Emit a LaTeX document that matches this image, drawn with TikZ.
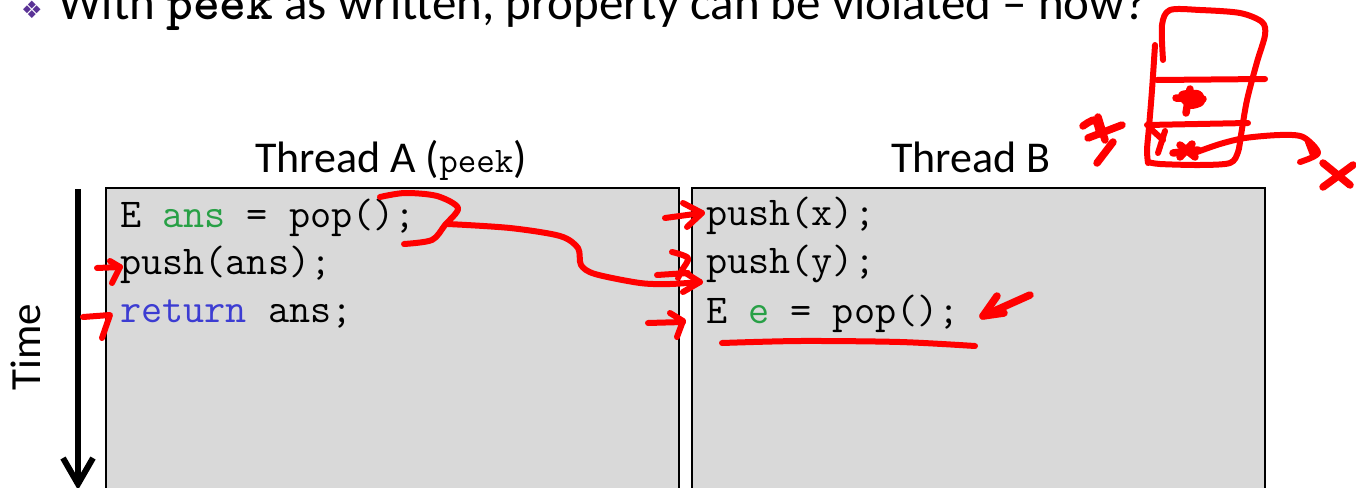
\documentclass[tikz,border=0pt]{standalone}
\usepackage{fontspec}
\setmainfont{Carlito}
\newfontfamily\symfont{DejaVu Sans}
\definecolor{boxgray}{RGB}{217,217,217}
\definecolor{kwgreen}{RGB}{40,160,70}
\definecolor{kwblue}{RGB}{60,60,210}
\definecolor{bulletpurple}{RGB}{90,50,150}
\definecolor{inkred}{RGB}{255,0,0}
\tikzset{
  threadbox/.style={draw=black, line width=2pt, fill=boxgray},
  codeline/.style={anchor=base west, inner sep=0pt, font=\ttfamily\fontsize{41}{46}\selectfont},
  label/.style={anchor=base, inner sep=0pt, font=\fontsize{44}{50}\selectfont},
  ink/.style={draw=inkred, line width=6pt, line cap=round, line join=round},
  thickink/.style={ink, line width=7.5pt},
  timeline/.style={draw=black, line width=6pt},
}
\begin{document}
\begin{tikzpicture}[x=1pt,y=-1pt]
\useasboundingbox (0,0) rectangle (1356,487);
\fill[white] (0,0) rectangle (1356,487);

% headline
\node[anchor=base west, inner sep=0pt, text=bulletpurple, font=\symfont\fontsize{24}{26}\selectfont] (bullet) at (21,19) {❖};
\node[anchor=base west, inner sep=0pt, font=\fontsize{49}{54}\selectfont] (title) at (58,20)
  {With {\ttfamily\bfseries\fontsize{51}{54}\selectfont peek} as written, property can be violated – how?};

% thread boxes
\draw[threadbox] (106,188) rectangle (679,495);
\draw[threadbox] (692,188) rectangle (1265,495);

% column headings
\node[label] (headA) at (391,172) {Thread A ({\ttfamily\fontsize{36}{40}\selectfont peek})};
\node[label] (headB) at (971,172) {Thread B};

% thread A code
\node[codeline] (a1) at (120,227) {E \textcolor{kwgreen}{ans} = pop();};
\node[codeline] (a2) at (120,274) {push(ans);};
\node[codeline] (a3) at (120,322) {\textcolor{kwblue}{return} ans;};

% thread B code
\node[codeline] (b1) at (706,225) {push(x);};
\node[codeline] (b2) at (706,273) {push(y);};
\node[codeline] (b3) at (706,323) {E \textcolor{kwgreen}{e} = pop();};

% time axis
\coordinate (ttop) at (78,189);
\coordinate (tbot) at (78,484);
\draw[timeline] (ttop) -- (tbot);
\draw[timeline, line join=miter] (63,458) -- (tbot) -- (93,458);
\node[rotate=90, inner sep=0pt, font=\fontsize{43}{48}\selectfont] (time) at (26,347) {Time};

% --- red ink: thread A
\draw[ink] plot[smooth] coordinates {(380,197) (405,193) (437,196) (458,208) (445,225) (432,240) (404,244)};
\draw[ink] plot[smooth] coordinates {(448,224) (510,228) (560,236) (578,248) (581,265) (595,274) (640,283) (670,284) (700,282)};
\draw[ink] (684,272) -- (700,282) -- (683,292);
\draw[ink] (97,268) -- (120,267);
\draw[ink] (110,261) -- (120,267) -- (112,283);
\draw[ink] (83,317) -- (110,315) -- (102,338);

% --- red ink: thread B
\draw[ink] (665,218) -- (702,213);
\draw[ink] (683,203) -- (702,213) -- (687,227);
\draw[ink] plot[smooth] coordinates {(672,252) (688,258) (682,270) (678,278)};
\draw[ink] (657,275) -- (688,273);
\draw[ink] (648,323) -- (683,322);
\draw[ink] (670,313) -- (683,321) -- (677,337);
\draw[thickink] (1030,295) -- (983,316);
\draw[thickink] (997,296) -- (983,316) -- (1004,313);
\draw[ink] plot[smooth] coordinates {(722,343) (800,341) (900,342) (975,346)};

% --- red ink: stack sketch
\draw[ink] plot[smooth] coordinates {(1163,60) (1162,25) (1170,10) (1200,10) (1240,13) (1262,22) (1265,35) (1257,62) (1247,100) (1241,135) (1238,152) (1230,163) (1200,165) (1160,164) (1148,162)};
\draw[ink] plot[smooth] coordinates {(1155,45) (1152,90) (1149,127) (1147,150) (1148,163)};
\draw[ink] (1157,80) -- (1265,79);
\draw[ink] (1147,125) -- (1248,123);
% top cell entry
\draw[thickink] (1176,98) -- (1203,99);
\draw[thickink] (1190,89) -- (1186,113);
\draw[thickink] plot[smooth cycle] coordinates {(1182,95) (1198,94) (1201,102) (1190,105)};
% bottom cell entry
\draw[ink] (1152,130) -- (1163,140);
\draw[ink] (1165,131) -- (1158,153);
\draw[thickink] (1173,153) -- (1198,150);
\draw[thickink] (1180,145) -- (1195,157);
\draw[thickink] (1192,144) -- (1180,157);
% popped element leaving
\draw[ink] plot[smooth] coordinates {(1197,152) (1220,144) (1245,138) (1280,135) (1303,137) (1318,153) (1300,162)};
\draw[ink] (1308,142) -- (1313,155);
\draw[thickink] (1323,163) -- (1350,185);
\draw[thickink] (1353,165) -- (1323,187);
% pushed value beside stack
\draw[thickink] plot[smooth] coordinates {(1083,126) (1095,120) (1100,134)};
\draw[thickink] (1098,117) -- (1105,140);
\draw[thickink] (1088,138) -- (1122,125);
\draw[thickink] (1113,142) -- (1097,163);
\end{tikzpicture}
\end{document}
